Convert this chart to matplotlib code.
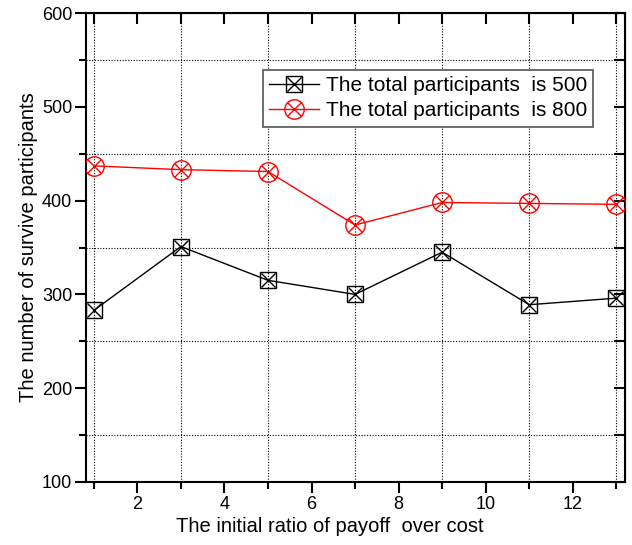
import matplotlib
matplotlib.use("Agg")
import matplotlib.pyplot as plt
from matplotlib.ticker import MultipleLocator
from matplotlib.legend_handler import HandlerTuple

plt.rcParams['font.family'] = ['Liberation Sans', 'DejaVu Sans']

ratio = [1, 3, 5, 7, 9, 11, 13]
survive_500 = [283, 351, 315, 300, 345, 289, 296]
survive_800 = [437, 433, 431, 374, 398, 397, 396]
labels = ["The total participants  is 500", "The total participants  is 800"]

fig = plt.figure(figsize=(6.32, 5.45), dpi=100)
ax = fig.add_axes([86/632, 1 - 482/545, (625-86)/632, (482-13)/545])

# series 1: black squares with a cross
l1, = ax.plot(ratio, survive_500, color='black', lw=1, marker='s', ms=11,
              mfc='none', mec='black', mew=1, zorder=3)
x1, = ax.plot(ratio, survive_500, ls='none', marker='x', ms=10,
              mec='black', mew=1, zorder=3)
# series 2: red circles with a cross
l2, = ax.plot(ratio, survive_800, color='red', lw=1, marker='o', ms=14,
              mfc='none', mec='red', mew=1, zorder=3)
x2, = ax.plot(ratio, survive_800, ls='none', marker='x', ms=10,
              mec='red', mew=1, zorder=3)

ax.set_xlim(0.82, 13.2)
ax.set_ylim(100, 600)
ax.xaxis.set_major_locator(MultipleLocator(2))
ax.xaxis.set_minor_locator(MultipleLocator(1))
ax.yaxis.set_major_locator(MultipleLocator(100))
ax.yaxis.set_minor_locator(MultipleLocator(50))

ax.tick_params(which='both', direction='out', top=False, right=False,
               labelsize=13, width=1.5, pad=2)
ax.tick_params(which='major', length=8)
ax.tick_params(which='minor', length=5)

# inward ticks on top and right
top = ax.secondary_xaxis('top')
top.set_xticks(range(1, 14))
top.tick_params(direction='in', length=8, width=1.5, labeltop=False)
top.set_xticklabels([])
right = ax.secondary_yaxis('right')
right.set_yticks(range(100, 601, 50))
right.tick_params(direction='in', length=8, width=1.5, labelright=False)
right.set_yticklabels([])

for s in ax.spines.values():
    s.set_linewidth(1.5)

ax.grid(which='minor', color='black', ls=(0, (1, 1.5)), lw=0.8)
ax.grid(which='major', visible=False)

ax.set_xlabel("The initial ratio of payoff  over cost", fontsize=14.5, labelpad=3)
ax.xaxis.set_label_coords((330-86)/539, -0.075)
ax.set_ylabel("The number of survive participants", fontsize=14.5, labelpad=3)

leg = ax.legend([(l1, x1), (l2, x2)], labels,
                handler_map={tuple: HandlerTuple(ndivide=1, pad=0)},
                loc='upper left', bbox_to_anchor=((263-86)/539, (482-70)/469),
                fontsize=15, frameon=True, fancybox=False, edgecolor='#555555',
                framealpha=1, borderpad=0.3, handlelength=2.4, handletextpad=0.3,
                labelspacing=0.3, borderaxespad=0)
leg.get_frame().set_linewidth(1.2)

fig.savefig("out.png", dpi=100)
